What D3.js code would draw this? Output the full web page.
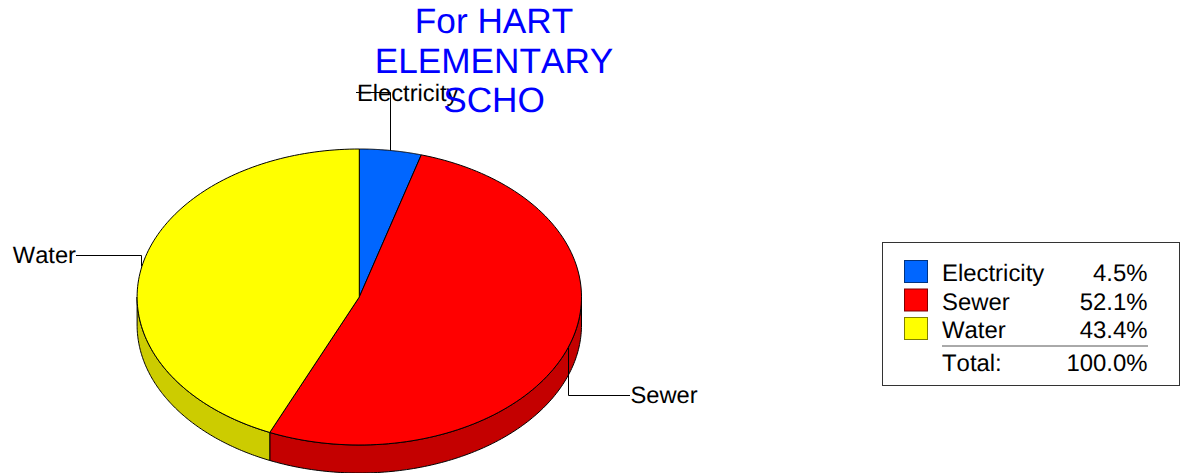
<!DOCTYPE html>
<html><head><meta charset="utf-8">
<script src="https://cdnjs.cloudflare.com/ajax/libs/d3/7.8.5/d3.min.js"></script>
<style>
html,body{margin:0;padding:0;background:#fff}
svg{display:block}
text{font-family:"Liberation Sans",Arial,sans-serif;fill:#000;text-rendering:geometricPrecision;font-kerning:none}
</style></head><body>
<script>
const categories=["Electricity","Sewer","Water"];
const shares=[4.5,52.1,43.4];
const shareLabels=["4.5%","52.1%","43.4%"];
const totalLabel="100.0%";
const titleLines=["For HART","ELEMENTARY","SCHO"];
const topColors=["#0066ff","#ff0000","#ffff00"];
const sideColors=["#0052cc","#c40000","#cccc00"];
const swatchStroke=["#00337f","#7f0000","#7f7f00"];

const W=1184,H=473;
const svg=d3.select("body").append("svg").attr("width",W).attr("height",H);

const cx=359.3,cy=297,rx=222.2,ry=148,depth=28;
const sx=d3.scaleLinear().domain([-1,1]).range([cx-rx,cx+rx]);
const sy=d3.scaleLinear().domain([-1,1]).range([cy-ry,cy+ry]);
const pt=a=>[sx(Math.sin(a)),sy(-Math.cos(a))];
const line=d3.line();
const arcs=d3.pie().sort(null).value(d=>d)(shares);
const sample=(a0,a1)=>d3.range(0,121).map(i=>a0+(a1-a0)*i/120);

// side wall: only the front half of the ellipse (90deg to 270deg) is visible
arcs.forEach((d,i)=>{
  const a0=Math.max(d.startAngle,Math.PI/2),a1=Math.min(d.endAngle,Math.PI*1.5);
  if(a1<=a0) return;
  const top=sample(a0,a1).map(pt);
  const bottom=top.map(p=>[p[0],p[1]+depth]).reverse();
  svg.append("path").attr("d",line(top.concat(bottom))+"Z")
    .attr("fill",sideColors[i]).attr("stroke","#000").attr("stroke-width",1).attr("stroke-linejoin","round");
});

// top face
arcs.forEach((d,i)=>{
  const rim=sample(d.startAngle,d.endAngle).map(pt);
  svg.append("path").attr("d",line([[cx,cy]].concat(rim))+"Z")
    .attr("fill",topColors[i]).attr("stroke","#000").attr("stroke-width",1).attr("stroke-linejoin","round");
});

// leader lines and labels
const labelLayout=[{elbowY:92.5,endX:356,tx:357,ty:101,anchor:"start"},
                   {elbowY:395.5,endX:630,tx:630.5,ty:403,anchor:"start"},
                   {elbowY:255.5,endX:76,tx:76,ty:263,anchor:"end"}];
arcs.forEach((d,i)=>{
  const m=(d.startAngle+d.endAngle)/2,p=pt(m),l=labelLayout[i];
  const x=Math.floor(p[0])+0.5;
  svg.append("path").attr("d",line([[x,p[1]],[x,l.elbowY],[l.endX,l.elbowY]]))
    .attr("fill","none").attr("stroke","#000").attr("stroke-width",1);
  svg.append("text").attr("x",l.tx).attr("y",l.ty).attr("text-anchor",l.anchor)
    .attr("font-size",23.7).text(categories[i]);
});

// title
titleLines.forEach((t,i)=>{
  svg.append("text").attr("x",494).attr("y",33+i*39.5).attr("text-anchor","middle")
    .attr("font-size",35.2).style("fill","#0000ff").text(t);
});

// legend
const lg=svg.append("g");
lg.append("rect").attr("x",882.5).attr("y",242.5).attr("width",297).attr("height",143)
  .attr("fill","#fff").attr("stroke","#333").attr("stroke-width",1);
const rowY=d3.scalePoint().domain(categories).range([282,339]);
categories.forEach((c,i)=>{
  const b=rowY(c);
  lg.append("rect").attr("x",904.5).attr("y",b-21.5).attr("width",23).attr("height",22)
    .attr("fill",topColors[i]).attr("stroke",swatchStroke[i]).attr("stroke-width",1);
  lg.append("text").attr("x",942).attr("y",b-1).attr("font-size",23.9).text(c);
  lg.append("text").attr("x",1147.5).attr("y",b-1).attr("text-anchor","end").attr("font-size",23.9).text(shareLabels[i]);
});
lg.append("line").attr("x1",942).attr("x2",1148).attr("y1",346).attr("y2",346).attr("stroke","#555").attr("stroke-width",1);
lg.append("text").attr("x",942).attr("y",371).attr("font-size",23.9).text("Total:");
lg.append("text").attr("x",1147.5).attr("y",371).attr("text-anchor","end").attr("font-size",23.9).text(totalLabel);
</script>
</body></html>
